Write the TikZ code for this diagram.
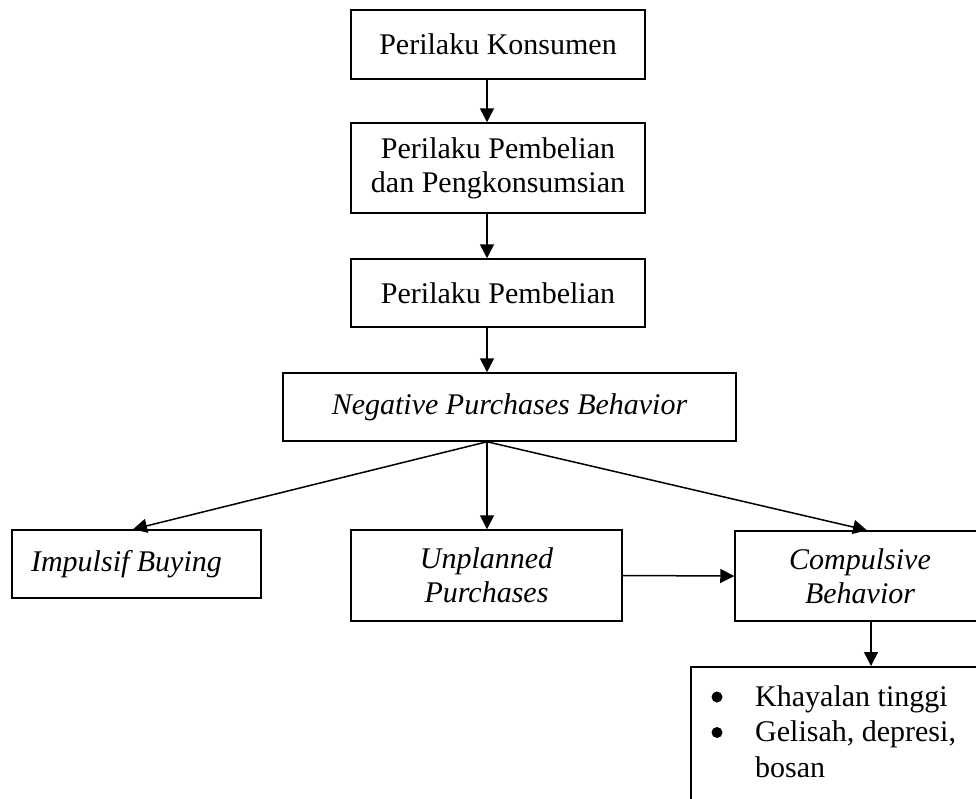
\documentclass[tikz,border=0pt]{standalone}
\usepackage{fontspec}
\setmainfont{Liberation Serif}
\usetikzlibrary{arrows.meta}
\begin{document}
\begin{tikzpicture}[x=1pt,y=-1pt,
  box/.style={draw, line width=1.5pt, inner sep=0pt, align=center,
    font=\fontsize{30}{33.7}\selectfont},
  arr/.style={line width=1.5pt, -{Triangle[length=14pt,width=14pt]}},
  bul/.style={fill=black}]
\useasboundingbox (0,0) rectangle (976,798);
\clip (0,0) rectangle (976,798);
\node[box, minimum width=294pt, minimum height=69pt] (b1) at (498,44.5) {Perilaku Konsumen};
\node[box, minimum width=294pt, minimum height=90pt] (b2) at (498,168) {Perilaku Pembelian\\dan Pengkonsumsian};
\node[box, minimum width=294pt, minimum height=68pt] (b3) at (498,293) {Perilaku Pembelian};
\node[box, minimum width=453pt, minimum height=68pt] (b4) at (509.5,407) {\itshape Negative Purchases Behavior};
\node[box, minimum width=249pt, minimum height=68pt] (ib) at (136.5,564) {\hspace*{-20pt}\itshape Impulsif Buying};
\node[box, minimum width=271pt, minimum height=91pt] (up) at (486.5,575.5) {\itshape Unplanned\\\itshape Purchases};
\node[box, minimum width=250pt, minimum height=90pt] (cb) at (860,576) {\itshape Compulsive\\\itshape Behavior};
\node[box, minimum width=330pt, minimum height=180pt, anchor=north west] (bx) at (690,666) {};
\node[inner sep=0pt, anchor=base west, font=\fontsize{30}{35.5}\selectfont] (bl) at (755,706)
  {\begin{tabular}[t]{@{}l@{}}Khayalan tinggi\\Gelisah, depresi,\\bosan\end{tabular}};
\fill[bul] (717,697) circle (5.5);
\fill[bul] (717,732.5) circle (5.5);
\coordinate (ax) at (487,0);
\draw[arr] (b1.south -| ax) -- (b2.north -| ax);
\draw[arr] (b2.south -| ax) -- (b3.north -| ax);
\draw[arr] (b3.south -| ax) -- (b4.north -| ax);
\draw[arr] (b4.south -| ax) -- (up.north -| ax);
\coordinate (ib1) at (133,0);
\coordinate (cb1) at (867,0);
\coordinate (cb2) at (871,0);
\draw[arr] (b4.south -| ax) -- (ib.north -| ib1);
\draw[arr] (b4.south -| ax) -- (cb.north -| cb1);
\draw[arr] (up.east) -- (cb.west);
\draw[arr] (cb.south -| cb2) -- (bx.north -| cb2);
\end{tikzpicture}
\end{document}
